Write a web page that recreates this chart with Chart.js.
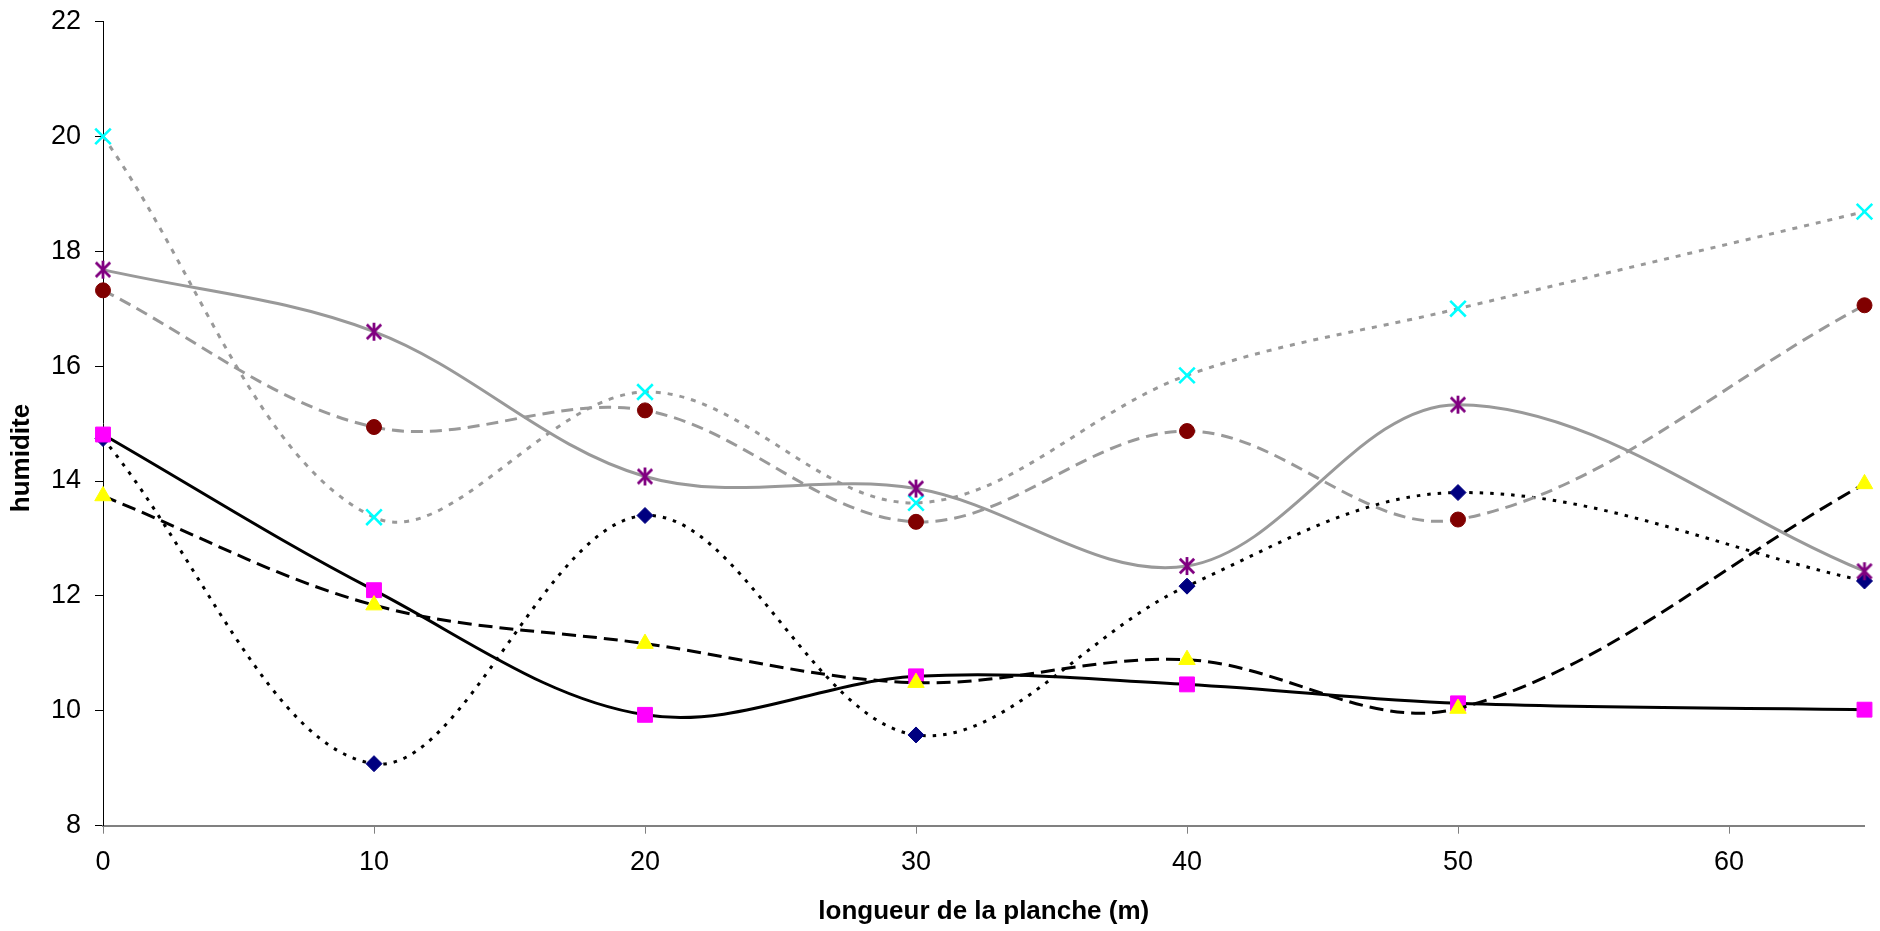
<!DOCTYPE html>
<html>
<head>
<meta charset="utf-8">
<script src="https://cdn.jsdelivr.net/npm/chart.js@4.4.1/dist/chart.umd.min.js"></script>
<style>
html,body{margin:0;padding:0;background:#ffffff;overflow:hidden}
canvas{display:block}
</style>
</head>
<body>
<canvas id="c" width="1880" height="931"></canvas>
<script>
// ---- data ----
const positions = [0, 10, 20, 30, 40, 50, 65];
const xTicks = [0, 10, 20, 30, 40, 50, 60];
const yTicks = [8, 10, 12, 14, 16, 18, 20, 22];
const serieLosanges = [14.74, 9.08, 13.40, 9.58, 12.17, 13.80, 12.26];
const serieCarres   = [14.81, 12.10, 9.93, 10.60, 10.46, 10.13, 10.02];
const serieTriangles= [13.74, 11.84, 11.17, 10.49, 10.89, 10.04, 13.95];
const serieCroix    = [20.00, 13.37, 15.55, 13.62, 15.84, 17.00, 18.69];
const serieEtoiles  = [17.68, 16.60, 14.08, 13.87, 12.52, 15.33, 12.43];
const serieCercles  = [17.32, 14.94, 15.23, 13.29, 14.87, 13.33, 17.06];
const xTitle = 'longueur de la planche (m)';
const yTitle = 'humidite';

// ---- helpers ----
const FONT = "'Liberation Sans', Arial, sans-serif";
const GRAY = '#999999';

function asteriskMarker(color, size, lw) {
  const c = document.createElement('canvas');
  c.width = size; c.height = size;
  const g = c.getContext('2d');
  g.strokeStyle = color; g.lineWidth = lw; g.lineCap = 'butt';
  const m = size / 2, r = size / 2 - 1;
  const d = r * 0.8;
  g.beginPath();
  g.moveTo(m - d, m - d); g.lineTo(m + d, m + d);
  g.moveTo(m + d, m - d); g.lineTo(m - d, m + d);
  g.moveTo(m, m - r); g.lineTo(m, m + r);
  g.stroke();
  return c;
}

function pts(vals) { return positions.map((x, i) => ({x: x, y: vals[i]})); }

function ds(vals, line, marker, order) {
  return Object.assign({
    data: pts(vals),
    tension: 0.35,
    fill: false,
    clip: false,
    order: order,
    borderCapStyle: 'butt'
  }, line, marker);
}

const datasets = [
  ds(serieLosanges,
     {borderColor: '#000000', borderWidth: 3, borderDash: [3.5, 7]},
     {pointStyle: 'rectRot', pointRadius: 8, pointBackgroundColor: '#000080', pointBorderColor: '#000080', pointBorderWidth: 1}, 6),
  ds(serieCarres,
     {borderColor: '#000000', borderWidth: 3},
     {pointStyle: 'rect', pointRadius: 10.5, pointBackgroundColor: '#FF00FF', pointBorderColor: '#FF00FF', pointBorderWidth: 1}, 5),
  ds(serieTriangles,
     {borderColor: '#000000', borderWidth: 3, borderDash: [14, 7]},
     {pointStyle: 'triangle', pointRadius: 9.5, pointBackgroundColor: '#FFFF00', pointBorderColor: '#FFFF00', pointBorderWidth: 1}, 4),
  ds(serieCroix,
     {borderColor: GRAY, borderWidth: 3, borderDash: [5, 7]},
     {pointStyle: 'crossRot', pointRadius: 11, pointBackgroundColor: '#00FFFF', pointBorderColor: '#00FFFF', pointBorderWidth: 2.6}, 3),
  ds(serieEtoiles,
     {borderColor: GRAY, borderWidth: 3},
     {pointStyle: asteriskMarker('#800080', 20, 2.8), pointRadius: 10}, 2),
  ds(serieCercles,
     {borderColor: GRAY, borderWidth: 3, borderDash: [12, 7]},
     {pointStyle: 'circle', pointRadius: 7.5, pointBackgroundColor: '#800000', pointBorderColor: '#800000', pointBorderWidth: 1}, 1)
];

// y-axis title drawn at the same place as in the reference (centred on the chart, not on the axis)
const yTitlePlugin = {
  id: 'yTitlePlugin',
  afterDraw(chart) {
    const ctx = chart.ctx;
    ctx.save();
    ctx.translate(22, 458);
    ctx.rotate(-Math.PI / 2);
    ctx.font = "bold 26px " + FONT;
    ctx.fillStyle = '#000000';
    ctx.textAlign = 'center';
    ctx.textBaseline = 'middle';
    ctx.fillText(yTitle, 0, 0);
    ctx.restore();
  }
};

new Chart(document.getElementById('c'), {
  type: 'line',
  data: {datasets: datasets},
  plugins: [yTitlePlugin],
  options: {
    responsive: false,
    animation: false,
    events: [],
    layout: {padding: {left: 0, right: 15.5, top: 21.5, bottom: 0}},
    plugins: {legend: {display: false}, tooltip: {enabled: false}},
    scales: {
      x: {
        type: 'linear', min: 0, max: 65,
        afterBuildTicks: s => { s.ticks = xTicks.map(v => ({value: v})); },
        afterFit: s => { s.height = 931 - 825.7; s.paddingLeft = 0; s.paddingRight = 0; },
        grid: {drawOnChartArea: false, drawTicks: true, tickLength: 8, tickColor: '#808080', tickWidth: 1},
        border: {color: '#808080', width: 2},
        ticks: {font: {family: FONT, size: 27}, color: '#000000', padding: 13, maxRotation: 0, autoSkip: false},
        title: {display: true, text: xTitle, color: '#000000', font: {family: FONT, size: 26, weight: 'bold'}, padding: {top: 0, bottom: 4}}
      },
      y: {
        type: 'linear', min: 8, max: 22,
        afterBuildTicks: s => { s.ticks = yTicks.map(v => ({value: v})); },
        afterFit: s => { s.width = 103; s.paddingTop = 0; s.paddingBottom = 0; },
        grid: {drawOnChartArea: false, drawTicks: true, tickLength: 8, tickColor: '#000000', tickWidth: 1},
        border: {color: '#000000', width: 1},
        ticks: {font: {family: FONT, size: 27}, color: '#000000', padding: 14, autoSkip: false},
        title: {display: false, text: yTitle}
      }
    }
  }
});
</script>
</body>
</html>
